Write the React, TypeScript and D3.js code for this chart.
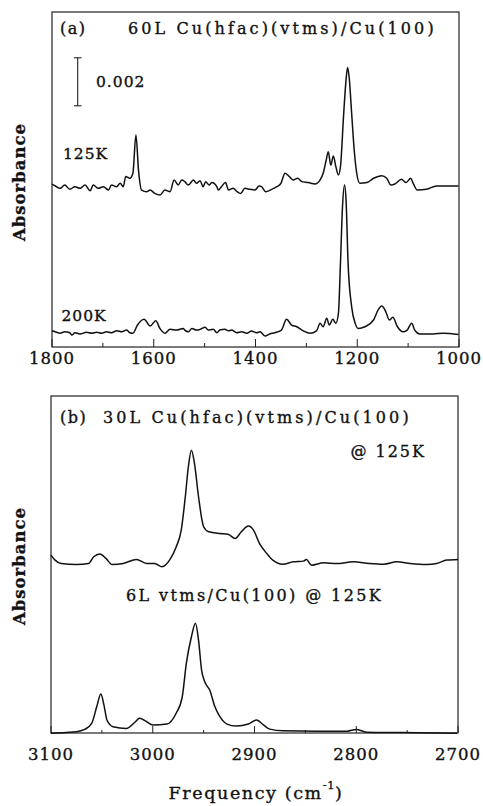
import React from "react";
import * as d3 from "d3";

// IR spectra, panel (a): absorbance in units of 10^-3, relative to each trace's own baseline
const spec125K: [number, number][] = [
  [1800, 0.04], [1794, -0.03], [1784, -0.14], [1775, 0], [1765, -0.18], [1755, -0.07], [1745, -0.14],
  [1735, 0], [1725, -0.24], [1719, 0], [1709, -0.14], [1699, -0.07], [1689, -0.21], [1683, 0],
  [1673, -0.07], [1666, 0.07], [1660, -0.07], [1655, 0.35], [1647, 0.28], [1641, 0.49], [1635, 2.08],
  [1630, 0.62], [1624, -0.21], [1614, -0.28], [1607, -0.21], [1598, -0.35], [1588, -0.42], [1578, -0.21],
  [1568, -0.28], [1560, 0.21], [1552, 0], [1545, 0.21], [1539, 0.14], [1532, 0], [1522, 0.21],
  [1516, 0.07], [1509, 0.18], [1503, -0.07], [1498, 0.14], [1491, 0], [1486, 0.1], [1476, -0.07],
  [1473, -0.21], [1467, -0.07], [1459, 0.1], [1453, -0.21], [1444, -0.14], [1436, -0.28], [1429, -0.35],
  [1421, -0.14], [1411, -0.18], [1401, -0.21], [1393, -0.04], [1388, -0.07], [1380, -0.28], [1368, -0.18],
  [1358, -0.07], [1350, 0.07], [1342, 0.49], [1332, 0.32], [1326, 0.21], [1317, 0.28], [1309, 0.14],
  [1296, 0.1], [1283, 0.04], [1273, 0.21], [1267, 0.49], [1261, 1.04], [1257, 1.39], [1252, 0.83],
  [1247, 1.21], [1242, 0.76], [1237, 0.42], [1233, 0.76], [1227, 2.85], [1222, 4.38], [1219, 4.9],
  [1216, 4.51], [1211, 2.99], [1206, 1.46], [1201, 0.49], [1195, 0.07], [1181, 0.1], [1168, 0.28],
  [1152, 0.39], [1142, 0.28], [1134, 0], [1126, 0.04], [1113, 0.24], [1104, 0.1], [1095, 0.28],
  [1090, 0.07], [1082, -0.21], [1064, -0.18], [1044, -0.04], [1024, -0.04], [1001, -0.04],
];

const spec200K: [number, number][] = [
  [1800, 0.05], [1794, 0.01], [1784, -0.05], [1775, 0.01], [1765, -0.03], [1761, -0.13], [1755, -0.03],
  [1745, -0.08], [1732, -0.01], [1722, -0.05], [1712, -0.01], [1702, -0.05], [1693, 0.01], [1683, -0.03],
  [1673, 0.05], [1663, 0.01], [1653, 0.08], [1647, -0.03], [1641, -0.05], [1632, 0.29], [1619, 0.53],
  [1607, 0.25], [1596, 0.47], [1588, 0.15], [1578, -0.05], [1568, 0.11], [1555, 0.08], [1542, 0.15],
  [1539, 0.08], [1532, 0.01], [1525, 0.15], [1516, 0.08], [1509, 0.11], [1499, 0.2], [1493, 0.08],
  [1483, 0.11], [1476, -0.03], [1470, 0.08], [1460, 0.11], [1453, 0.05], [1447, 0.08], [1437, -0.03],
  [1427, 0.01], [1417, -0.05], [1408, 0.04], [1398, -0.03], [1391, 0.01], [1381, -0.17], [1372, -0.08],
  [1362, -0.03], [1349, 0.08], [1339, 0.53], [1329, 0.29], [1319, 0.22], [1306, 0.05], [1293, -0.05],
  [1280, 0.05], [1273, 0.36], [1267, 0.22], [1260, 0.57], [1255, 0.29], [1248, 0.53], [1242, 0.36],
  [1237, 0.78], [1233, 2.86], [1229, 5.22], [1225, 6.13], [1222, 5.5], [1218, 2.86], [1211, 1.05],
  [1204, 0.36], [1198, 0.15], [1185, 0.22], [1168, 0.5], [1159, 0.92], [1152, 1.08], [1144, 0.85],
  [1137, 0.5], [1130, 0.61], [1121, 0.22], [1110, 0.01], [1102, 0.08], [1093, 0.36], [1087, 0.08],
  [1077, -0.08], [1051, -0.08], [1031, -0.05], [1001, -0.1],
];

// panel (b), arbitrary absorbance units
const spec30L: [number, number][] = [
  [3100, 0.24], [3096, 0.09], [3090, -0.01], [3075, -0.04], [3063, -0.01], [3058, 0.19], [3052, 0.27],
  [3046, 0.14], [3040, -0.04], [3029, -0.01], [3016, 0.11], [3006, -0.01], [2998, -0.01], [2991, -0.11],
  [2983, 0.11], [2977, 0.48], [2972, 0.98], [2968, 1.97], [2965, 2.86], [2962, 3.35], [2959, 2.96],
  [2955, 1.97], [2950, 1.08], [2945, 0.93], [2934, 0.88], [2926, 0.86], [2919, 0.73], [2913, 0.93],
  [2906, 1.1], [2901, 0.98], [2895, 0.58], [2888, 0.29], [2882, 0.09], [2872, -0.03], [2862, 0.04],
  [2852, 0.06], [2849, 0.11], [2844, -0.06], [2832, 0.01], [2819, -0.01], [2803, 0.04], [2787, -0.01],
  [2773, -0.03], [2760, 0.04], [2747, -0.01], [2731, -0.04], [2721, -0.01], [2711, 0.09], [2700, 0.11],
];

const spec6L: [number, number][] = [
  [3100, -0.02], [3085, 0], [3075, 0.02], [3067, 0.09], [3060, 0.27], [3055, 0.77], [3051, 1.14],
  [3048, 0.82], [3045, 0.37], [3039, 0.17], [3026, 0.12], [3017, 0.32], [3013, 0.42], [3006, 0.32],
  [3000, 0.22], [2986, 0.25], [2977, 0.57], [2971, 1.06], [2967, 2.05], [2962, 2.84], [2958, 3.24],
  [2955, 2.74], [2952, 1.85], [2949, 1.51], [2944, 1.26], [2939, 0.77], [2934, 0.47], [2927, 0.25],
  [2918, 0.19], [2906, 0.25], [2898, 0.37], [2891, 0.22], [2885, 0.1], [2872, 0.05], [2839, 0.04],
  [2809, 0.04], [2800, 0.09], [2790, 0.01], [2757, 0], [2701, -0.02],
];

// vertical offsets of each trace in its panel
const offsetA = { k125: 6.75, k200: 0.625 };
const offsetB = { l30: 5.04, l6: 0.015 };

const xDomainA: [number, number] = [1800, 1000];
const xDomainB: [number, number] = [3100, 2700];
const tickLabelsA = [1800, 1600, 1400, 1200, 1000];
const tickLabelsB = [3100, 3000, 2900, 2800, 2700];
const scaleBar = 2; // 0.002 absorbance

const FONT = "'DejaVu Serif', serif";
const INK = "#111";

type Pt = [number, number];

function Trace({ data, x, y, off }: { data: Pt[]; x: d3.ScaleLinear<number, number>; y: d3.ScaleLinear<number, number>; off: number }) {
  const line = d3
    .line<Pt>()
    .x((d) => x(d[0]))
    .y((d) => y(d[1] + off))
    .curve(d3.curveMonotoneX);
  return <path d={line(data) || ""} fill="none" stroke={INK} strokeWidth={1.5} strokeLinejoin="round" />;
}

function Frame({ x0, x1, y0, y1 }: { x0: number; x1: number; y0: number; y1: number }) {
  return <rect x={x0} y={y0} width={x1 - x0} height={y1 - y0} fill="none" stroke="#222" strokeWidth={1.2} />;
}

// text with a light outline so the glyphs read as heavy as typewritten labels
function Label(props: React.SVGProps<SVGTextElement> & { children: React.ReactNode }) {
  return <text fill={INK} stroke={INK} strokeWidth={0.35} {...props} />;
}

export default function App() {
  // panel (a)
  const aL = 52, aR = 459, aT = 12, aB = 347;
  const xA = d3.scaleLinear().domain(xDomainA).range([aL, aR]);
  const yA = d3.scaleLinear().domain([0, (aB - aT) / 24]).range([aB, aT]);
  // panel (b)
  const bL = 51, bR = 458, bT = 396, bB = 733;
  const xB = d3.scaleLinear().domain(xDomainB).range([bL, bR]);
  const yB = d3.scaleLinear().domain([0, 10]).range([bB, bT]);

  const ticksA = d3.range(1800, 999, -100);
  const ticksB = d3.range(3100, 2699, -50);

  const barBottom = 10.05;

  return (
    <svg width={483} height={806} style={{ position: "absolute", left: 0, top: 0, background: "#fff" }} fontFamily={FONT}>
      <rect width={483} height={806} fill="#fff" />

      {/* panel (a) */}
      <Frame x0={aL} x1={aR} y0={aT} y1={aB} />
      {ticksA.map((t) => (
        <line key={t} x1={xA(t)} x2={xA(t)} y1={aB} y2={aB - (t % 200 === 0 ? 8 : 4)} stroke="#222" strokeWidth={1} />
      ))}
      {tickLabelsA.map((t) => (
        <Label key={t} x={xA(t)} y={363.5} fontSize={16.5} textAnchor="middle" letterSpacing={1}>
          {t}
        </Label>
      ))}
      <Trace data={spec125K} x={xA} y={yA} off={offsetA.k125} />
      <Trace data={spec200K} x={xA} y={yA} off={offsetA.k200} />
      <Label x={60} y={33.5} fontSize={16} letterSpacing={1.5}>(a)</Label>
      <Label x={128} y={33.5} fontSize={16} letterSpacing={3.1}>60L Cu(hfac)(vtms)/Cu(100)</Label>
      <g stroke="#222" strokeWidth={1.1}>
        <line x1={77.7} x2={77.7} y1={yA(barBottom)} y2={yA(barBottom + scaleBar)} />
        <line x1={74} x2={81.5} y1={yA(barBottom)} y2={yA(barBottom)} />
        <line x1={74} x2={81.5} y1={yA(barBottom + scaleBar)} y2={yA(barBottom + scaleBar)} />
      </g>
      <Label x={96} y={86.5} fontSize={15.5} letterSpacing={1}>0.002</Label>
      <Label x={63} y={158.5} fontSize={15.5} letterSpacing={1}>125K</Label>
      <Label x={61.5} y={320.5} fontSize={15.5} letterSpacing={1}>200K</Label>
      <Label transform="translate(25,182) rotate(-90)" fontSize={16.5} fontWeight="bold" textAnchor="middle" letterSpacing={1}>
        Absorbance
      </Label>

      {/* panel (b) */}
      <Frame x0={bL} x1={bR} y0={bT} y1={bB} />
      {ticksB.map((t) => (
        <line key={t} x1={xB(t)} x2={xB(t)} y1={bB} y2={bB - (t % 100 === 0 ? 7 : 3)} stroke="#222" strokeWidth={1} />
      ))}
      {tickLabelsB.map((t) => (
        <Label key={t} x={xB(t)} y={760} fontSize={16.5} textAnchor="middle" letterSpacing={1}>
          {t}
        </Label>
      ))}
      <Trace data={spec30L} x={xB} y={yB} off={offsetB.l30} />
      <Trace data={spec6L} x={xB} y={yB} off={offsetB.l6} />
      <Label x={60} y={423} fontSize={16} letterSpacing={1.5}>(b)</Label>
      <Label x={103} y={423} fontSize={16} letterSpacing={3.1}>30L Cu(hfac)(vtms)/Cu(100)</Label>
      <Label x={426} y={456.5} fontSize={16} textAnchor="end" letterSpacing={2}>@ 125K</Label>
      <Label x={126} y={600.5} fontSize={16} letterSpacing={2.4}>6L vtms/Cu(100) @ 125K</Label>
      <Label transform="translate(25,566) rotate(-90)" fontSize={16.5} fontWeight="bold" textAnchor="middle" letterSpacing={1}>
        Absorbance
      </Label>
      <Label x={256} y={799} fontSize={17.5} textAnchor="middle" letterSpacing={1.6}>
        Frequency (cm
        <tspan dy={-10} fontSize={11.5} letterSpacing={0.5}>-1</tspan>
        <tspan dy={10}>)</tspan>
      </Label>
    </svg>
  );
}
